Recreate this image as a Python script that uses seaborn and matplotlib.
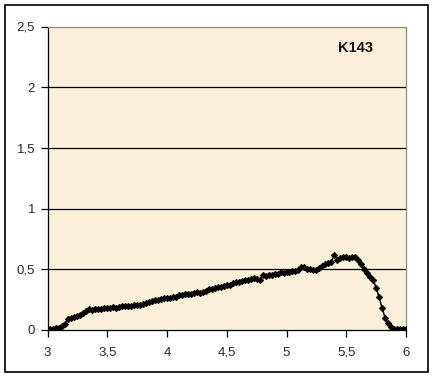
import numpy as np
import pandas as pd
import matplotlib
matplotlib.use("Agg")
import matplotlib.pyplot as plt
import seaborn as sns
from matplotlib.patches import Rectangle

x_vals = [3.000, 3.025, 3.050, 3.075, 3.100, 3.125, 3.150, 3.175, 3.200, 3.225,
          3.250, 3.275, 3.300, 3.325, 3.350, 3.375, 3.400, 3.425, 3.450, 3.475,
          3.500, 3.525, 3.550, 3.575, 3.600, 3.625, 3.650, 3.675, 3.700, 3.725,
          3.750, 3.775, 3.800, 3.825, 3.850, 3.875, 3.900, 3.925, 3.950, 3.975,
          4.000, 4.025, 4.050, 4.075, 4.100, 4.125, 4.150, 4.175, 4.200, 4.225,
          4.250, 4.275, 4.300, 4.325, 4.350, 4.375, 4.400, 4.425, 4.450, 4.475,
          4.500, 4.525, 4.550, 4.575, 4.600, 4.625, 4.650, 4.675, 4.700, 4.725,
          4.750, 4.775, 4.800, 4.825, 4.850, 4.875, 4.900, 4.925, 4.950, 4.975,
          5.000, 5.025, 5.050, 5.075, 5.100, 5.125, 5.150, 5.175, 5.200, 5.225,
          5.250, 5.275, 5.300, 5.325, 5.350, 5.375, 5.400, 5.425, 5.450, 5.475,
          5.500, 5.525, 5.550, 5.575, 5.600, 5.625, 5.650, 5.675, 5.700, 5.725,
          5.750, 5.775, 5.800, 5.825, 5.850, 5.875, 5.900, 5.925, 5.950, 5.975,
          6.000]
y_vals = [0.000, 0.005, 0.010, 0.015, 0.020, 0.030, 0.050, 0.090, 0.100, 0.110,
          0.115, 0.125, 0.140, 0.155, 0.170, 0.165, 0.170, 0.175, 0.175, 0.180,
          0.180, 0.185, 0.190, 0.185, 0.190, 0.195, 0.200, 0.195, 0.200, 0.205,
          0.210, 0.205, 0.215, 0.220, 0.230, 0.235, 0.245, 0.250, 0.255, 0.260,
          0.260, 0.265, 0.270, 0.275, 0.290, 0.285, 0.300, 0.300, 0.295, 0.305,
          0.310, 0.305, 0.315, 0.320, 0.335, 0.340, 0.350, 0.355, 0.355, 0.365,
          0.370, 0.370, 0.385, 0.395, 0.395, 0.400, 0.410, 0.415, 0.420, 0.425,
          0.420, 0.410, 0.455, 0.445, 0.455, 0.455, 0.460, 0.465, 0.475, 0.470,
          0.480, 0.480, 0.490, 0.490, 0.495, 0.520, 0.515, 0.500, 0.505, 0.495,
          0.495, 0.510, 0.530, 0.545, 0.555, 0.560, 0.620, 0.580, 0.595, 0.600,
          0.605, 0.595, 0.605, 0.600, 0.575, 0.540, 0.500, 0.470, 0.440, 0.410,
          0.350, 0.270, 0.180, 0.100, 0.055, 0.025, 0.010, 0.010, 0.005, 0.005,
          0.005]

x_ticks = [3, 3.5, 4, 4.5, 5, 5.5, 6]
x_tick_labels = ["3", "3,5", "4", "4,5", "5", "5,5", "6"]
y_ticks = [0, 0.5, 1, 1.5, 2, 2.5]
y_tick_labels = ["0", "0,5", "1", "1,5", "2", "2,5"]
label_text = "K143"

df = pd.DataFrame({"x": x_vals, "y": y_vals})

sns.set_style("white")
plt.rcParams["font.family"] = ["Liberation Sans", "DejaVu Sans"]

fig = plt.figure(figsize=(4.33, 3.77), dpi=100)
fig.patch.set_facecolor("white")
fig.patches.append(Rectangle((5 / 433, 5 / 377), 423 / 433, 367 / 377,
                             transform=fig.transFigure, fill=False,
                             edgecolor="black", linewidth=1.2))

ax = fig.add_axes([47.5 / 433, 47 / 377, 358.5 / 433, 303.5 / 377])
ax.set_facecolor("#FBF0DA")

for gy in y_ticks[1:-1]:
    ax.axhline(gy, color="black", linewidth=0.9, zorder=1)

sns.lineplot(data=df, x="x", y="y", ax=ax, color="black", linewidth=1.1,
             marker="D", markersize=3.4, markeredgewidth=0.4,
             markeredgecolor="black", zorder=3)

ax.set_xlim(3, 6)
ax.set_ylim(0, 2.5)
ax.set_xticks(x_ticks)
ax.set_xticklabels(x_tick_labels)
ax.set_yticks(y_ticks)
ax.set_yticklabels(y_tick_labels)
ax.set_xlabel("")
ax.set_ylabel("")
ax.tick_params(axis="both", direction="out", length=5, width=0.9, color="black",
               labelsize=9.5, labelcolor="#2a2a2a")
ax.tick_params(axis="x", bottom=True, pad=7)
ax.tick_params(axis="y", left=True, pad=4)

for side in ["left", "bottom"]:
    ax.spines[side].set_color("black")
    ax.spines[side].set_linewidth(0.9)
for side in ["top", "right"]:
    ax.spines[side].set_color("#8a8a8a")
    ax.spines[side].set_linewidth(0.9)
    ax.spines[side].set_visible(True)

ax.text(0.86, 0.93, label_text, transform=ax.transAxes, fontsize=10.5,
        fontweight="bold", color="#111111", ha="center", va="center")

fig.savefig("out.png", dpi=100)
